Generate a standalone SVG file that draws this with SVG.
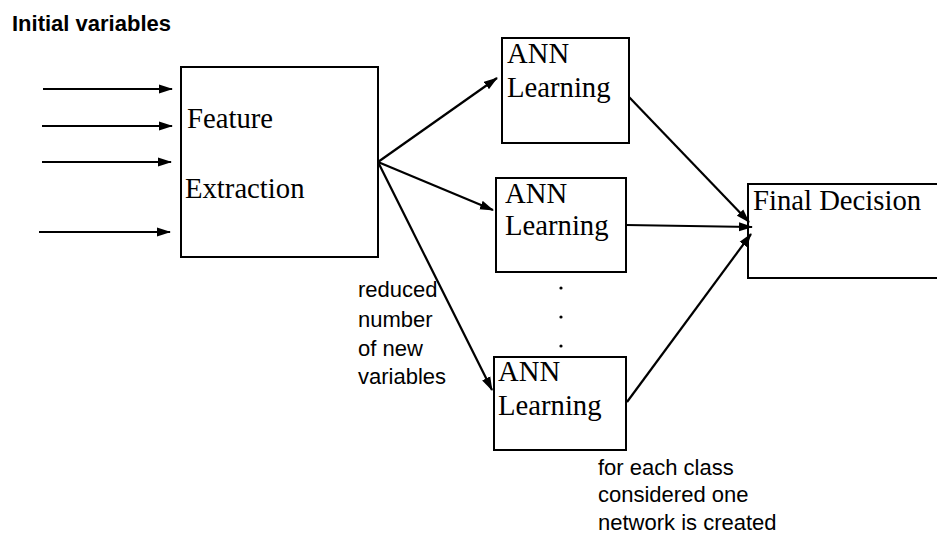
<svg xmlns="http://www.w3.org/2000/svg" width="937" height="543" viewBox="0 0 937 543">
<defs>
<marker id="ah" markerWidth="14" markerHeight="10" refX="13" refY="5" orient="auto" markerUnits="userSpaceOnUse">
<path d="M0,0.5 L14,5 L0,9.5 Z" fill="#000"/>
</marker>
<style>
.box{fill:#fff;stroke:#000;stroke-width:2}
.t{font-family:"Liberation Serif","Times New Roman",serif;font-size:28.7px;fill:#000}
.s{font-family:"Liberation Sans",Arial,sans-serif;font-size:22px;fill:#000}
.c line{stroke:#000;stroke-width:2.2;marker-end:url(#ah)}
</style>
</defs>
<rect width="937" height="543" fill="#fff"/>
<text class="s" x="12" y="31" font-weight="bold">Initial variables</text>
<g id="feature">
<rect class="box" x="181" y="67" width="197" height="190"/>
<text class="t" x="187" y="128">Feature</text>
<text class="t" x="185" y="198">Extraction</text>
</g>
<g id="ann1">
<rect class="box" x="502" y="38" width="127" height="105"/>
<text class="t" x="507" y="63">ANN</text>
<text class="t" x="507" y="97">Learning</text>
</g>
<g id="ann2">
<rect class="box" x="496" y="178" width="130" height="94"/>
<text class="t" x="505" y="203">ANN</text>
<text class="t" x="505" y="235">Learning</text>
</g>
<g id="ann3">
<rect class="box" x="494" y="357" width="132" height="93"/>
<text class="t" x="498" y="381">ANN</text>
<text class="t" x="498" y="415">Learning</text>
</g>
<g id="final">
<rect class="box" x="748" y="184" width="220" height="94"/>
<text class="t" x="753" y="210">Final Decision</text>
</g>
<g id="dots" fill="#000">
<circle cx="561" cy="288" r="1.6"/>
<circle cx="561" cy="317" r="1.6"/>
<circle cx="561" cy="346" r="1.6"/>
</g>
<g id="connectors" class="c">
<line x1="43" y1="89" x2="172" y2="89"/>
<line x1="42" y1="126" x2="172" y2="126"/>
<line x1="42" y1="162" x2="171" y2="162"/>
<line x1="39" y1="232" x2="170" y2="232"/>
<line x1="378" y1="162" x2="497" y2="78"/>
<line x1="378" y1="162" x2="493" y2="210"/>
<line x1="378" y1="162" x2="492" y2="390"/>
<line x1="629" y1="97" x2="749" y2="222"/>
<line x1="626" y1="225" x2="752" y2="227"/>
<line x1="627" y1="402" x2="751" y2="234"/>
</g>
<g id="labels">
<text class="s" x="358" y="297">reduced</text>
<text class="s" x="358" y="327">number</text>
<text class="s" x="358" y="356">of new</text>
<text class="s" x="358" y="384">variables</text>
<text class="s" x="598" y="475">for each class</text>
<text class="s" x="598" y="502">considered one</text>
<text class="s" x="598" y="530">network is created</text>
</g>
</svg>
